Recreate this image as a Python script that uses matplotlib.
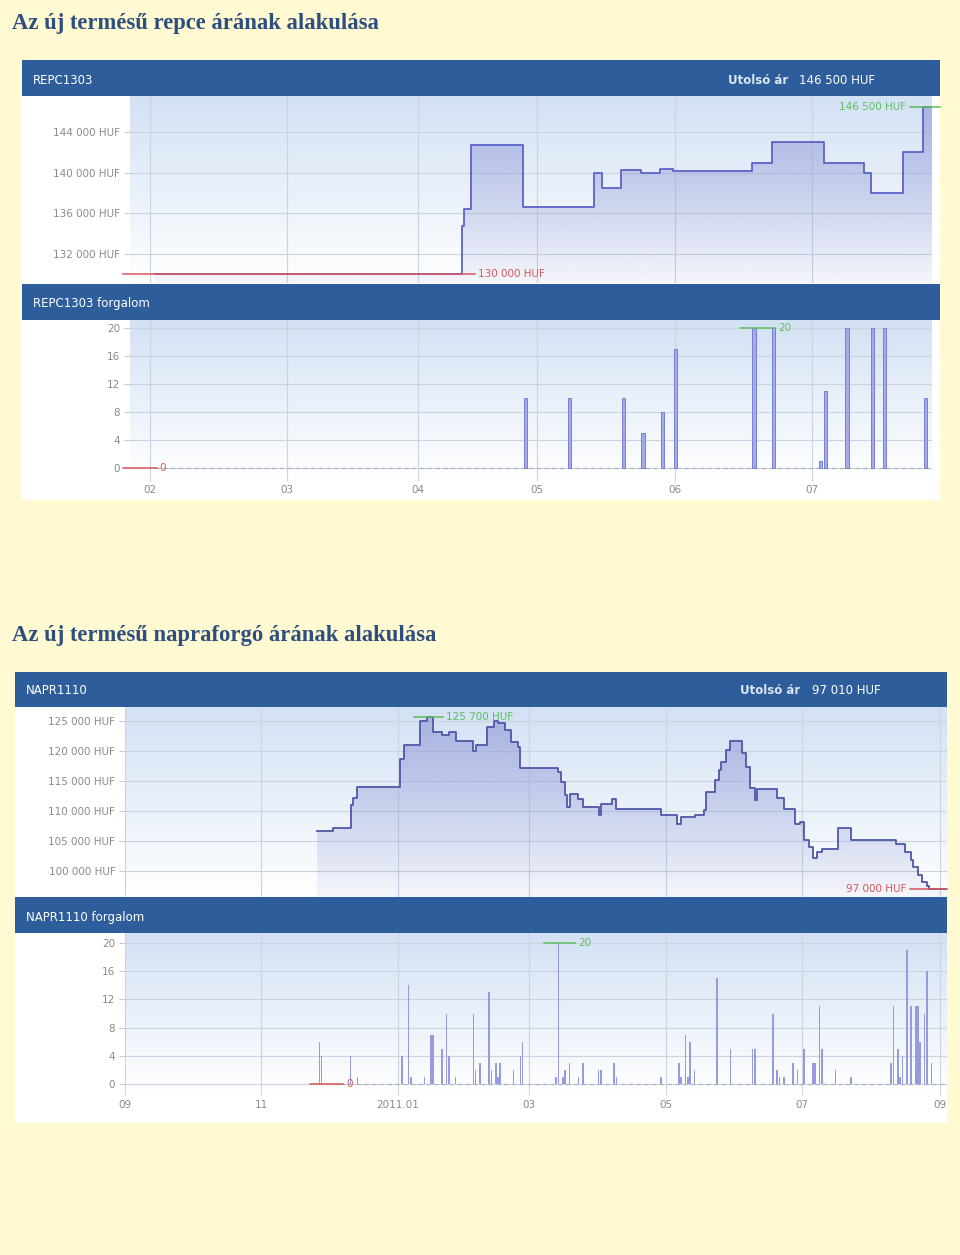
import matplotlib
matplotlib.use("Agg")
import matplotlib.pyplot as plt
import numpy as np
from matplotlib.colors import to_rgb
from matplotlib.patches import Rectangle
from matplotlib.transforms import Bbox, TransformedBbox

W, H = 960, 1255

# REPC1303 - x in trading days from 1 Feb 2012
repc_month_pos = [0, 22.1, 43.2, 62.4, 84.7, 106.8]
repc_month_lbl = ["02", "03", "04", "05", "06", "07"]
repc_day = [0.8, 50.3, 50.6, 51.8, 60.2, 71.6, 72.9, 76.0, 79.2, 82.3, 84.4,
            97.1, 100.3, 108.7, 115.2, 116.3, 121.5, 124.7, 126.1]
repc_price = [130000, 134800, 136400, 142700, 136600, 140000, 138500, 140300,
              140000, 140400, 140200, 141000, 143000, 141000, 140000, 138000,
              142000, 146500, 146500]
repc_vol_day = [60.5, 67.7, 76.3, 79.5, 82.6, 84.7, 97.4, 100.6, 108.1, 109.0,
                112.4, 116.5, 118.5, 125.0]
repc_vol = [10, 10, 10, 5, 8, 17, 20, 20, 1, 11, 20, 20, 20, 10]
repc_price_ticks = [132000, 136000, 140000, 144000]

# NAPR1110 - x in calendar days from 1 Sep 2010
napr_month_pos = [0, 61, 122, 181, 242, 303, 365]
napr_month_lbl = ["09", "11", "2011.01", "03", "05", "07", "09"]
napr_day = [86, 93, 101, 102, 104, 123, 125, 132, 135, 138, 142, 145, 148, 156,
            157, 162, 165, 167, 170, 173, 176, 177, 194, 195, 197, 198, 199,
            203, 205, 212, 213, 218, 220, 240, 247, 249, 255, 259, 260, 264,
            266, 267, 269, 271, 276, 278, 280, 282, 283, 292, 295, 300, 302,
            304, 306, 308, 310, 312, 319, 325, 345, 349, 352, 353, 355, 357,
            359, 360, 364, 368]
napr_price = [106600, 107100, 111000, 112200, 114000, 118600, 121000, 125000,
              125700, 123200, 122700, 123200, 121700, 120000, 121000, 124000,
              125000, 124600, 123500, 121500, 120700, 117100, 116500, 114900,
              112600, 110600, 112900, 112000, 110600, 109300, 111100, 112000,
              110400, 109300, 107800, 109000, 109300, 110100, 113100, 115100,
              116800, 118200, 120100, 121700, 119600, 117400, 113800, 111800,
              113600, 112100, 110400, 107900, 108200, 105100, 104000, 102200,
              103200, 103600, 107100, 105100, 104500, 103200, 101800, 100700,
              99300, 98200, 97500, 97000, 97010, 97010]
napr_vol_day = [87, 88, 101, 104, 124, 127, 128, 134, 137, 138, 142, 144, 145,
                148, 156, 157, 159, 163, 164, 166, 167, 168, 174, 177, 178, 193,
                194, 196, 197, 199, 203, 205, 212, 213, 219, 220, 240, 248, 249,
                251, 252, 253, 255, 265, 271, 281, 282, 290, 292, 293, 295, 299,
                301, 304, 308, 309, 311, 312, 318, 325, 343, 344, 346, 347, 348,
                350, 352, 354, 355, 356, 358, 359, 361]
napr_vol = [6, 4, 4, 1, 4, 14, 1, 1, 7, 7, 5, 10, 4, 1, 10, 2, 3, 13, 2, 3, 1,
            3, 2, 4, 6, 1, 20, 1, 2, 3, 1, 3, 2, 2, 3, 1, 1, 3, 1, 7, 1, 6, 2,
            15, 5, 5, 5, 10, 2, 1, 1, 3, 2, 5, 3, 3, 11, 5, 2, 1, 3, 11, 5, 1,
            4, 19, 11, 11, 11, 6, 10, 16, 3]
napr_price_ticks = [100000, 105000, 110000, 115000, 120000, 125000]
vol_ticks = [0, 4, 8, 12, 16, 20]

BG = "#FFFAD2"
HEAD = "#2E5D9B"
GRID = "#CBD3DE"
TICK = "#8A8A8A"
RED = "#D9585B"
GREEN = "#5BC060"


def px_box(x0, y0, x1, y1):
    return [x0 / W, 1 - y1 / H, (x1 - x0) / W, (y1 - y0) / H]


def rect(fig, x0, y0, x1, y1, color, z=-1):
    fig.add_artist(Rectangle((x0 / W, 1 - y1 / H), (x1 - x0) / W, (y1 - y0) / H,
                             transform=fig.transFigure, facecolor=color,
                             edgecolor="none", zorder=z))


def ftext(fig, x, y, s, **kw):
    fig.text(x / W, 1 - y / H, s, va="center", **kw)


def huf(v):
    return f"{v:,}".replace(",", " ") + " HUF"


def gradient(ax, top, bottom, alpha=(1.0, 1.0), z=0):
    t = np.linspace(0, 1, 200)[:, None]
    rgb = np.array(to_rgb(top)) * (1 - t) + np.array(to_rgb(bottom)) * t
    a = alpha[0] * (1 - t) + alpha[1] * t
    img = np.concatenate([rgb, a], axis=1)[:, None, :]
    return ax.imshow(img, extent=(0, 1, 0, 1), transform=ax.transAxes,
                     aspect="auto", origin="upper", interpolation="bilinear",
                     zorder=z)


def base_axes(fig, box, xlim, ylim, xticks, yticks, ylabels):
    ax = fig.add_axes(px_box(*box))
    ax.set_facecolor("none")
    for s in ax.spines.values():
        s.set_visible(False)
    gradient(ax, "#D3E1F4", "#FFFFFF")
    ax.set_xticks(xticks)
    ax.set_yticks(yticks)
    ax.set_yticklabels(ylabels)
    ax.grid(True, color=GRID, lw=0.8)
    ax.set_axisbelow(True)
    ax.tick_params(axis="y", length=4, width=0.8, color="#C4CBD6",
                   labelsize=7.5, labelcolor=TICK, pad=3)
    ax.set_xlim(xlim)
    ax.set_ylim(ylim)
    return ax


def mark(ax, xa, xb, y, s, color, lpad, rpad, side):
    x0, x1 = ax.get_xlim()
    dpp = (x1 - x0) / (ax.get_position().width * W)
    a, b = xa - lpad * dpp, xb + rpad * dpp
    ax.plot([a, b], [y, y], color=color, lw=1.1, clip_on=False, zorder=5)
    if side == "right":
        ax.text(b + 3 * dpp, y, s, color=color, ha="left", va="center",
                fontsize=7.5, clip_on=False, zorder=5)
    else:
        ax.text(a - 4 * dpp, y, s, color=color, ha="right", va="center",
                fontsize=7.5, clip_on=False, zorder=5)


def run_of(days, vals, i):
    j = i
    while j + 1 < len(vals) and vals[j + 1] == vals[i]:
        j += 1
    end = days[j + 1] if j + 1 < len(days) else days[j]
    return days[i], end


def price_panel(fig, box, xlim, ylim, mpos, days, prices, ticks, line_color):
    ax = base_axes(fig, box, xlim, ylim, mpos, ticks, [huf(t) for t in ticks])
    ax.tick_params(axis="x", length=0, labelbottom=False)
    poly = ax.fill_between(days, prices, ylim[0], step="post",
                           facecolor="none", edgecolor="none")
    im = gradient(ax, "#8791D4", "#8791D4", alpha=(0.6, 0.08), z=1)
    im.set_clip_path(poly.get_paths()[0], ax.transData)
    ax.step(days, prices, where="post", color=line_color, lw=1.3, zorder=3)
    ax.set_xlim(xlim)
    ax.set_ylim(ylim)
    return ax


def vol_panel(fig, box, xlim, ylim, mpos, mlbl, days, vols, width, face, edge, first_day, pad):
    ax = base_axes(fig, box, xlim, ylim, mpos, vol_ticks, [str(t) for t in vol_ticks])
    ax.set_xticklabels(mlbl)
    ax.tick_params(axis="x", length=2, color=GRID, labelsize=7.5,
                   labelcolor=TICK, pad=pad)
    ax.plot([first_day, xlim[1]], [0, 0], color="#A8AEBB", lw=0.8,
            ls=(0, (4, 3)), zorder=2)
    ax.bar(days, vols, width=width, color=face, edgecolor=edge,
           lw=0.7 if edge != "none" else 0, zorder=3)
    ax.set_xlim(xlim)
    ax.set_ylim(ylim)
    return ax


fig = plt.figure(figsize=(W / 100, H / 100), dpi=100)
fig.patch.set_facecolor(BG)

title_kw = dict(fontsize=16.3, fontweight="bold", color="#2D4E7E",
                family=["Liberation Serif", "DejaVu Serif"])
head_kw = dict(fontsize=8.5, color="white")
last_kw = dict(fontsize=8.5, color="#DCE6F2", fontweight="bold")

# ---- chart 1: repce ----
ftext(fig, 12, 23, "Az új termésű repce árának alakulása", **title_kw)
rect(fig, 22, 60, 940, 500, "white", z=-2)
rect(fig, 22, 60, 940, 96, HEAD, z=1)
rect(fig, 22, 284, 940, 320, HEAD, z=1)
ftext(fig, 33, 80, "REPC1303", **head_kw)
ftext(fig, 728, 80, "Utolsó ár", **last_kw)
ftext(fig, 799, 80, huf(repc_price[-1]), **head_kw)
ftext(fig, 33, 303, "REPC1303 forgalom", **head_kw)

repc_xlim = (-3.2, 126.1)
ax1 = price_panel(fig, (130, 96, 932, 283), repc_xlim, (129150, 147540),
                  repc_month_pos, repc_day, repc_price, repc_price_ticks, "#5A63C8")
imax = int(np.argmax(repc_price))
imin = int(np.argmin(repc_price))
xa, xb = run_of(repc_day, repc_price, imax)
mark(ax1, xa, xb, repc_price[imax], huf(repc_price[imax]), GREEN, 13, 8, "left")
xa, xb = run_of(repc_day, repc_price, imin)
mark(ax1, xa, xb, repc_price[imin], huf(repc_price[imin]), RED, 32, 13, "right")

ax2 = vol_panel(fig, (130, 320, 932, 478), repc_xlim, (-1.43, 21.14),
                repc_month_pos, repc_month_lbl, repc_vol_day, repc_vol, 0.5,
                "#A3ABEB", "#7880D6", repc_day[0], 3)
vmax = int(np.argmax(repc_vol))
mark(ax2, repc_vol_day[vmax], repc_vol_day[vmax], repc_vol[vmax],
     str(repc_vol[vmax]), GREEN, 14, 21, "right")
mark(ax2, repc_day[0], repc_day[0], 0, "0", RED, 32, 2, "right")

# ---- chart 2: napraforgo ----
ftext(fig, 12, 636, "Az új termésű napraforgó árának alakulása", **title_kw)
rect(fig, 15, 672, 947, 1123, "white", z=-2)
rect(fig, 15, 672, 947, 707, HEAD, z=1)
rect(fig, 15, 897, 947, 933, HEAD, z=1)
ftext(fig, 26, 690, "NAPR1110", **head_kw)
ftext(fig, 740, 690, "Utolsó ár", **last_kw)
ftext(fig, 812, 690, huf(napr_price[-1]), **head_kw)
ftext(fig, 26, 917, "NAPR1110 forgalom", **head_kw)

napr_xlim = (0, 368)
ax3 = price_panel(fig, (125, 707, 947, 897), napr_xlim, (95667, 127333),
                  napr_month_pos, napr_day, napr_price, napr_price_ticks, "#4F57A8")
imax = int(np.argmax(napr_price))
imin = int(np.argmin(napr_price))
xa, xb = run_of(napr_day, napr_price, imax)
mark(ax3, xa, xb, napr_price[imax], huf(napr_price[imax]), GREEN, 13, 10, "right")
xa, xb = run_of(napr_day, napr_price, imin)
mark(ax3, xa, xb, napr_price[imin], huf(napr_price[imin]), RED, 19, 9, "left")

ax4 = vol_panel(fig, (125, 933, 947, 1092), napr_xlim, (-1.13, 21.42),
                napr_month_pos, napr_month_lbl, napr_vol_day, napr_vol, 0.7,
                "#959BDD", "none", napr_day[0], 4)
vmax = int(np.argmax(napr_vol))
mark(ax4, napr_vol_day[vmax], napr_vol_day[vmax], napr_vol[vmax],
     str(napr_vol[vmax]), GREEN, 14, 17, "right")
mark(ax4, napr_day[0], napr_day[0], 0, "0", RED, 7, 26, "right")

clip = TransformedBbox(Bbox.from_extents(15 / W, 0, 947 / W, 1), fig.transFigure)
for lbl in ax4.get_xticklabels():
    lbl.set_clip_on(True)
    lbl.set_clip_box(clip)

fig.savefig("out.png", dpi=100, facecolor=BG)
